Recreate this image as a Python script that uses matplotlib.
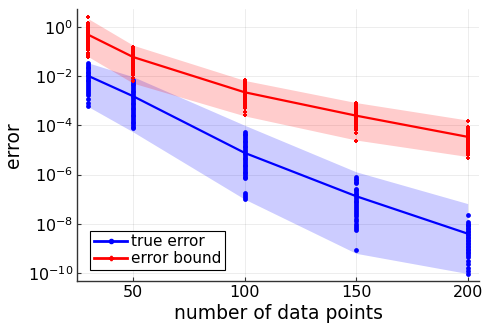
import numpy as np
import matplotlib
matplotlib.use("Agg")
from matplotlib import pyplot as plt
from matplotlib.lines import Line2D

# values are given as log10(error)
N_POINTS = [30, 50, 100, 150, 200]

TRUE_MEDIAN = [-2.0, -2.82, -5.12, -6.88, -8.40]
TRUE_LOW = [-3.25, -4.27, -7.0, -9.2, -10.02]
TRUE_HIGH = [-1.47, -2.03, -4.0, -5.89, -7.18]

BOUND_MEDIAN = [-0.33, -1.23, -2.66, -3.61, -4.47]
BOUND_LOW = [-1.22, -2.29, -3.62, -4.60, -5.27]
BOUND_HIGH = [0.32, -0.75, -2.18, -3.08, -3.79]

TRUE_SAMPLES = {
    30: [-1.49, -1.55, -1.62, -1.68, -1.75, -1.82, -1.88, -1.95, -2.02, -2.08,
         -2.15, -2.22, -2.30, -2.38, -2.45, -2.52, -2.60, -2.68, -2.78, -2.95,
         -3.08, -3.21],
    50: [-2.17, -2.24, -2.31, -2.38, -2.45, -2.52, -2.59, -2.66, -2.73, -2.80,
         -2.87, -2.94, -3.01, -3.08, -3.15, -3.22, -3.29, -3.36, -3.43, -3.50,
         -3.57, -3.64, -3.71, -3.78, -3.85, -3.92, -3.99, -4.06, -4.13],
    100: [-4.27, -4.34, -4.41, -4.48, -4.55, -4.62, -4.69, -4.76, -4.83, -4.90,
          -4.97, -5.04, -5.11, -5.18, -5.25, -5.32, -5.39, -5.46, -5.53, -5.60,
          -5.67, -5.74, -5.81, -5.88, -5.95, -6.02, -6.09, -6.16,
          -6.77, -6.85, -6.92, -6.98],
    150: [-6.12, -6.18, -6.24, -6.30, -6.36, -6.57, -6.64, -6.71, -6.78, -6.85,
          -6.92, -6.99, -7.06, -7.13, -7.20, -7.28, -7.36, -7.44, -7.52, -7.60,
          -7.70, -7.80, -7.90, -8.00, -8.10, -8.18, -8.26, -9.08],
    200: [-7.63, -7.93, -7.99, -8.05, -8.11, -8.17, -8.23, -8.29, -8.35, -8.41,
          -8.47, -8.53, -8.59, -8.65, -8.71, -8.77, -8.83, -8.89, -8.95, -9.01,
          -9.07, -9.13, -9.20, -9.27, -9.35, -9.50, -9.65, -9.78, -9.90, -10.02],
}

BOUND_SAMPLES = {
    30: [0.38, 0.14, 0.08, 0.02, -0.03, -0.08, -0.12, -0.17, -0.21, -0.26,
         -0.30, -0.35, -0.40, -0.45, -0.50, -0.56, -0.62, -0.70, -0.78, -0.86,
         -0.95, -1.05, -1.13, -1.22],
    50: [-0.81, -0.87, -0.93, -0.99, -1.05, -1.11, -1.17, -1.23, -1.29, -1.35,
         -1.41, -1.48, -1.55, -1.62, -1.70, -1.78, -1.86, -1.95, -2.08, -2.21],
    100: [-2.17, -2.23, -2.29, -2.35, -2.41, -2.47, -2.53, -2.59, -2.65, -2.71,
          -2.77, -2.83, -2.89, -2.95, -3.01, -3.08, -3.15, -3.22, -3.30, -3.45,
          -3.59],
    150: [-3.09, -3.15, -3.21, -3.27, -3.33, -3.39, -3.45, -3.51, -3.57, -3.63,
          -3.69, -3.75, -3.81, -3.87, -3.93, -3.99, -4.06, -4.13, -4.20, -4.31,
          -4.63],
    200: [-3.83, -4.09, -4.15, -4.21, -4.27, -4.33, -4.39, -4.45, -4.51, -4.57,
          -4.63, -4.69, -4.75, -4.81, -4.87, -4.93, -4.99, -5.06, -5.13, -5.20,
          -5.31],
}

Y_TICKS = [0, -2, -4, -6, -8, -10]
X_TICKS = [50, 100, 150, 200]

BLUE = "#0000ff"
RED = "#ff0000"
FONT = 11.5


def main():
    fig = plt.figure(figsize=(4.88, 3.26), dpi=100)
    ax = fig.add_axes([0.158, 0.139, 0.8236, 0.8334])
    ax.set_yscale("log")

    xs = np.array(N_POINTS)

    # bands
    ax.fill_between(xs, 10.0**np.array(TRUE_LOW), 10.0**np.array(TRUE_HIGH),
                    color=BLUE, alpha=0.2, linewidth=0, zorder=1)
    ax.fill_between(xs, 10.0**np.array(BOUND_LOW), 10.0**np.array(BOUND_HIGH),
                    color=RED, alpha=0.2, linewidth=0, zorder=1)

    # median lines
    ax.plot(xs, 10.0**np.array(TRUE_MEDIAN), color=BLUE, lw=1.6, zorder=3)
    ax.plot(xs, 10.0**np.array(BOUND_MEDIAN), color=RED, lw=1.6, zorder=3)

    # samples
    for n in N_POINTS:
        vals = 10.0**np.array(TRUE_SAMPLES[n])
        ax.scatter(np.full(len(vals), n), vals, s=12, color=BLUE, linewidths=0, zorder=4)
        vals = 10.0**np.array(BOUND_SAMPLES[n])
        ax.scatter(np.full(len(vals), n), vals, s=10, color=RED, marker="P", linewidths=0, zorder=4)

    ax.set_xlim(24.9, 205.1)
    ax.set_ylim(10**-10.31, 10**0.72)
    ax.set_xticks(X_TICKS)
    ax.set_xticklabels([str(t) for t in X_TICKS], fontsize=FONT)
    ax.set_yticks([10.0**t for t in Y_TICKS])
    ax.set_yticklabels([r"$10^{%d}$" % t if t >= 0 else r"$10^{-%d}$" % -t for t in Y_TICKS], fontsize=FONT)
    ax.minorticks_off()
    ax.tick_params(direction="in", length=3, width=0.8, color="#333333", pad=3)

    ax.grid(True, color="black", alpha=0.1, linewidth=0.5)
    ax.set_axisbelow(True)
    for side in ["top", "right"]:
        ax.spines[side].set_visible(False)
    for side in ["left", "bottom"]:
        ax.spines[side].set_color("#333333")
        ax.spines[side].set_linewidth(1.0)

    ax.set_xlabel("number of data points", fontsize=13.5, labelpad=3)
    ax.set_ylabel("error", fontsize=13.5, labelpad=3)

    handles = [
        Line2D([], [], color=BLUE, lw=2, marker="o", markersize=3),
        Line2D([], [], color=RED, lw=2, marker="P", markersize=3),
    ]
    leg = ax.legend(handles, ["true error", "error bound"], loc="lower left",
                    bbox_to_anchor=(0.032, 0.04), fontsize=11, fancybox=False,
                    framealpha=1, edgecolor="black", handlelength=2.2,
                    handletextpad=0.25, borderpad=0.25, labelspacing=0.1,
                    borderaxespad=0)
    leg.get_frame().set_linewidth(0.8)

    fig.savefig("out.png", dpi=100)


if __name__ == "__main__":
    main()
